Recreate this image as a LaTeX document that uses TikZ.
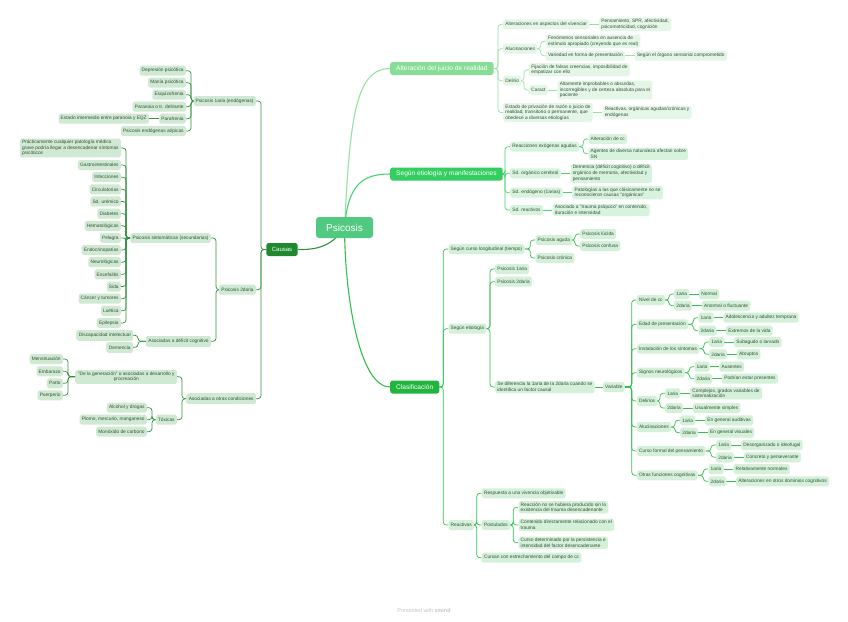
\documentclass[tikz,border=0pt]{standalone}
\usepackage{fontspec}
\setmainfont{Liberation Sans}
\usetikzlibrary{positioning,backgrounds}

\definecolor{leaftext}{RGB}{52,78,57}
\definecolor{rootgreen}{RGB}{82,201,128}
\definecolor{causasgreen}{RGB}{32,136,46}
\definecolor{altergreen}{RGB}{136,221,150}
\definecolor{segungreen}{RGB}{52,206,96}
\definecolor{clasifgreen}{RGB}{34,181,62}
\definecolor{causasline}{RGB}{52,145,64}
\definecolor{alterline}{RGB}{150,226,162}
\definecolor{segunline}{RGB}{72,212,112}
\definecolor{clasifline}{RGB}{52,192,78}
\definecolor{causasfill}{RGB}{208,233,211}
\definecolor{alterfill}{RGB}{228,246,230}
\definecolor{segunfill}{RGB}{216,243,221}
\definecolor{clasiffill}{RGB}{212,240,216}
\definecolor{footgray}{RGB}{195,195,195}

\tikzset{
  leaf/.style={fill=causasfill, text=leaftext, rounded corners=1.8pt, inner xsep=2.2pt,
    inner ysep=1.6pt, minimum height=10pt, font=\fontsize{4.8}{5.6}\selectfont, align=left},
  topic/.style={text=white, rounded corners=2.5pt, inner xsep=6pt, minimum height=13pt,
    font=\fontsize{6.6}{8}\selectfont},
  conn/.style={draw=causasline, line width=0.7pt, rounded corners=3pt},
  bigconn/.style={line width=1.1pt},
}

% nodes placed by their outer edge
\newcommand{\lnode}[4]{\node[leaf,anchor=east] (#1) at (#2,#3) {#4};}
\newcommand{\rnode}[4]{\node[leaf,anchor=west] (#1) at (#2,#3) {#4};}
% tree connectors, child side first
\newcommand{\ltree}[2]{\foreach \ch in {#2} {\draw[conn] (\ch.east) -- ++(5,0) |- (#1.west);}}
\newcommand{\rtree}[2]{\foreach \ch in {#2} {\draw[conn] (\ch.west) -- ++(-5,0) |- (#1.east);}}
% one row under "Variable"
\newcommand{\vargroup}[8]{%
  \rnode{#1}{636.7}{#2}{#3}
  \rnode{#1a}{#4}{#5}{1aria}
  \rnode{#1b}{#4}{#6}{2daria}
  \node[leaf, right=9.5pt of #1a] (#1av) {#7};
  \node[leaf, right=9.5pt of #1b] (#1bv) {#8};}

\begin{document}
\begin{tikzpicture}[x=1pt,y=-1pt]
\useasboundingbox (0,0) rectangle (848,621);
\begin{scope}[on background layer]
\fill[white] (0,0) rectangle (848,621);
\end{scope}

% central topic and main branches
\node[fill=rootgreen, text=white, rounded corners=3pt, minimum width=57pt, minimum height=21pt,
  font=\fontsize{10}{12}\selectfont] (psicosis) at (344.5,227.5) {Psicosis};
\node[topic, fill=causasgreen, inner xsep=5.5pt, font=\fontsize{6}{7}\selectfont] (causas) at (282,249.5) {Causas};
\node[topic, fill=altergreen, anchor=west] (alter) at (390,68.5) {Alteración del juicio de realidad};
\node[topic, fill=segungreen, anchor=west] (segun) at (390,174) {Según etiología y manifestaciones};
\node[topic, fill=clasifgreen, anchor=west] (clasif) at (390,387) {Clasificación};

% Causas
\begin{scope}[leaf/.append style={fill=causasfill}]
\lnode{p1aria}{256}{101}{Psicosis 1aria (endógenas)}
\lnode{depres}{186}{70.7}{Depresión psicótica}
\lnode{mania}{186}{82.7}{Manía psicótica}
\lnode{esqz}{186}{94.7}{Esquizofrenia}
\lnode{paran}{186}{106.7}{Paranoia o tr. delirante}
\lnode{parafr}{186}{118.7}{Parafrenia}
\node[leaf, left=10pt of parafr] (estint) {Estado intermedio entre paranoia y EQZ};
\lnode{atipic}{186}{131}{Psicosis endógenas atípicas}
\lnode{p2daria}{256}{289.7}{Psicosis 2daria}
\lnode{sintom}{211}{238}{Psicosis sintomáticas (secundarias)}
\lnode{cualq}{121}{148}{Prácticamente cualquier patología médica\\grave podría llegar a desencadenar síntomas\\psicóticos}
\foreach \t [count=\i] in {Gastrointestinales,Infecciones,Circulatorias,Sd. urémico,Diabetes,
  Hematológicas,Pelagra,Endocrinopatías,Neurológicas,Encefalitis,Sida,Cáncer y tumores,Luética,Epilepsia}
  \lnode{s\i}{121}{{165+12.15*(\i-1)}}{\t}
\lnode{deficit}{211}{341.3}{Asociadas a déficit cognitivo}
\lnode{discap}{133}{335.3}{Discapacidad intelectual}
\lnode{demencia}{133}{347.3}{Demencia}
\lnode{otras}{256}{398.7}{Asociadas a otras condiciones}
\node[leaf, anchor=east, align=center] (gener) at (177,376.7) {"De la generación" o asociadas a desarrollo y\\procreación};
\lnode{menst}{63}{359}{Menstruación}
\lnode{embar}{63}{371.3}{Embarazo}
\lnode{parto}{63}{383.3}{Parto}
\lnode{puerp}{63}{395.3}{Puerperio}
\lnode{toxic}{177}{419.7}{Tóxicas}
\lnode{alcoh}{147}{407.7}{Alcohol y drogas}
\lnode{plomo}{147}{419.7}{Plomo, mercurio, manganeso}
\lnode{monox}{147}{431.7}{Monóxido de carbono}
\end{scope}

% Alteracion del juicio de realidad
\begin{scope}[leaf/.append style={fill=alterfill}]
\rnode{altviv}{503}{24.3}{Alteraciones en aspectos del vivenciar}
\node[leaf, right=9.5pt of altviv] (pensam) {Pensamiento, SPR, afectividad,\\psicomotricidad, cognición};
\rnode{aluc}{503}{48.7}{Alucinaciones}
\rnode{fenom}{545.7}{41.2}{Fenómenos sensoriales en ausencia de\\estímulo apropiado (creyendo que es real)}
\rnode{varied}{545.7}{55.7}{Variedad en forma de presentación}
\node[leaf, right=9.5pt of varied] (organo) {Según el órgano sensorial comprometido};
\rnode{delir}{503}{80.7}{Delirio}
\rnode{fijac}{529}{69.8}{Fijación de falsas creencias, imposibilidad de\\empatizar con ello}
\rnode{caract}{529}{90}{Caract}
\node[leaf, right=9.5pt of caract] (altam) {Altamente improbables o absurdas,\\incorregibles y de certeza absoluta para el\\paciente};
\rnode{estado}{503}{112.5}{Estado de privación de razón o juicio de\\realidad, transitorio o permanente, que\\obedece a diversas etiologías}
\node[leaf, right=9.5pt of estado] (reactv) {Reactivas, orgánicas agudas/crónicas y\\endógenas};
\end{scope}

% Segun etiologia y manifestaciones
\begin{scope}[leaf/.append style={fill=segunfill}]
\rnode{exog}{510}{146.7}{Reacciones exógenas agudas}
\rnode{altcc}{588.3}{139}{Alteración de cc}
\rnode{agentes}{588.3}{153.8}{Agentes de diversa naturaleza afectan sobre\\SN}
\rnode{organic}{510}{173.3}{Sd. orgánico cerebral}
\node[leaf, right=9.5pt of organic] (demorg) {Demencia (déficit cognitivo) o déficit\\orgánico de memoria, afectividad y\\pensamiento};
\rnode{endog}{510}{192.7}{Sd. endógeno (1arias)}
\node[leaf, right=9.5pt of endog] (patol) {Patologías a las que clásicamente no se\\reconocieron causas "orgánicas"};
\rnode{sdreact}{510}{210}{Sd. reactivos}
\node[leaf, right=9.5pt of sdreact] (trauma) {Asociado a "trauma psíquico" en contenido,\\duración e intensidad};
\end{scope}

% Clasificacion
\begin{scope}[leaf/.append style={fill=clasiffill}]
\rnode{curso}{448.3}{249}{Según curso longitudinal (tiempo)}
\rnode{aguda}{535.3}{240}{Psicosis aguda}
\rnode{lucida}{580}{234}{Psicosis lúcida}
\rnode{confusa}{580}{246}{Psicosis confusa}
\rnode{cronica}{535.3}{258}{Psicosis crónica}
\rnode{segetio}{448.3}{328.7}{Según etiología}
\rnode{cp1}{495}{269}{Psicosis 1aria}
\rnode{cp2}{495}{281.7}{Psicosis 2daria}
\rnode{difer}{495}{387}{Se diferencia la 1aria de la 2daria cuando se\\identifica un factor causal}
\node[leaf, right=8pt of difer] (variab) {Variable};
\vargroup{nivel}{300}{Nivel de cc}{674}{294}{305.7}{Normal}{Anormal o fluctuante}
\vargroup{edad}{324.3}{Edad de presentación}{698.3}{317.7}{330.7}{Adolescencia y adultez temprana}{Extremos de la vida}
\vargroup{instal}{348.7}{Instalación de los síntomas}{709}{342}{354.3}{Subagudo o larvado}{Abruptos}
\vargroup{signos}{372.7}{Signos neurológicos}{694.3}{366.7}{378.7}{Ausentes}{Podrían estar presentes}
\vargroup{delis}{401}{Delirios}{665}{393.3}{408}{Complejos, grados variables de\\sistematización}{Usualmente simples}
\vargroup{alucs}{427}{Alucinaciones}{680}{420.3}{432.7}{En general auditivas}{En general visuales}
\vargroup{cfp}{451}{Curso formal del pensamiento}{716}{445}{457.3}{Desorganizado o ideofugal}{Concreto y perseverante}
\vargroup{otrasf}{475.3}{Otras funciones cognitivas}{708.3}{469}{481.3}{Relativamente normales}{Alteraciones en otros dominios cognitivos}
\rnode{reactivas}{448.3}{525}{Reactivas}
\rnode{resp}{481.7}{493.3}{Respuesta a una vivencia objetivable}
\rnode{postul}{481.7}{525}{Postulados}
\rnode{post1}{518.3}{507.3}{Reacción no se hubiera producido sin la\\existencia del trauma desencadenante}
\rnode{post2}{518.3}{525}{Contenido directamente relacionado con el\\trauma}
\rnode{post3}{518.3}{542.7}{Curso determinado por la persistencia e\\intensidad del factor desencadenante}
\rnode{cursan}{481.7}{557.7}{Cursan con estrechamiento del campo de cc}
\end{scope}

\node[text=footgray, font=\fontsize{5.4}{6.5}\selectfont] (credit) at (424,610.7) {Presented with \textbf{xmind}};

% connectors
\begin{scope}[on background layer]
\draw[bigconn, causasline] (psicosis.center) .. controls (330,250) and (310,249.5) .. (causas.east);
\draw[bigconn, alterline] (psicosis.center) .. controls (350,120) and (355,68.5) .. (alter.west);
\draw[bigconn, segunline] (psicosis.center) .. controls (348,185) and (362,174) .. (segun.west);
\draw[bigconn, clasifline] (psicosis.center) .. controls (345,300) and (360,387) .. (clasif.west);

\ltree{causas}{p1aria,p2daria,otras}
\ltree{p1aria}{depres,mania,esqz,paran,parafr,atipic}
\draw[conn] (parafr.west) -- (estint.east);
\ltree{p2daria}{sintom,deficit}
\ltree{sintom}{cualq}
\foreach \i in {1,...,14} {\draw[conn] (s\i.east) -- ++(5,0) |- (sintom.west);}
\ltree{deficit}{discap,demencia}
\ltree{otras}{gener,toxic}
\ltree{gener}{menst,embar,parto,puerp}
\ltree{toxic}{alcoh,plomo,monox}
\end{scope}

\begin{scope}[on background layer, conn/.append style={draw=alterline}]
\rtree{alter}{altviv,aluc,delir,estado}
\draw[conn] (altviv.east) -- (pensam.west);
\rtree{aluc}{fenom,varied}
\draw[conn] (varied.east) -- (organo.west);
\rtree{delir}{fijac,caract}
\draw[conn] (caract.east) -- (altam.west);
\draw[conn] (estado.east) -- (reactv.west);
\end{scope}

\begin{scope}[on background layer, conn/.append style={draw=segunline}]
\rtree{segun}{exog,organic,endog,sdreact}
\rtree{exog}{altcc,agentes}
\draw[conn] (organic.east) -- (demorg.west);
\draw[conn] (endog.east) -- (patol.west);
\draw[conn] (sdreact.east) -- (trauma.west);
\end{scope}

\begin{scope}[on background layer, conn/.append style={draw=clasifline}]
\rtree{clasif}{curso,segetio,reactivas}
\rtree{curso}{aguda,cronica}
\rtree{aguda}{lucida,confusa}
\rtree{segetio}{cp1,cp2,difer}
\draw[conn] (difer.east) -- (variab.west);
\rtree{variab}{nivel,edad,instal,signos,delis,alucs,cfp,otrasf}
\foreach \vg in {nivel,edad,instal,signos,delis,alucs,cfp,otrasf} {
  \rtree{\vg}{\vg a,\vg b}
  \draw[conn] (\vg a.east) -- (\vg av.west);
  \draw[conn] (\vg b.east) -- (\vg bv.west);
}
\rtree{reactivas}{resp,postul,cursan}
\rtree{postul}{post1,post2,post3}
\end{scope}
\end{tikzpicture}
\end{document}
